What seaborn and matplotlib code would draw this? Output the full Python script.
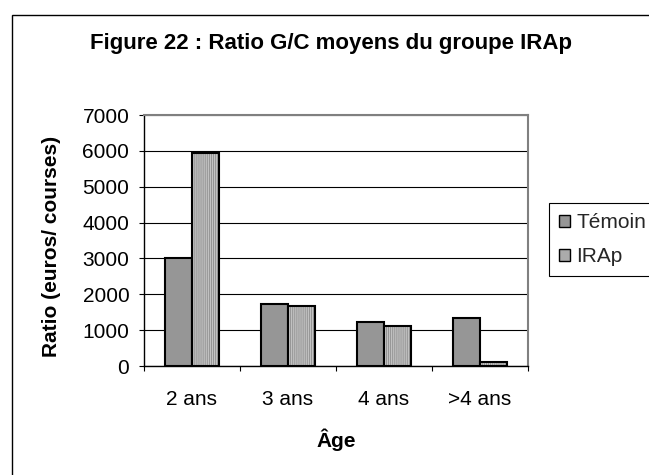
import matplotlib
matplotlib.use('Agg')
import matplotlib.pyplot as plt
import seaborn as sns
import pandas as pd
from matplotlib.patches import Patch, Rectangle

# ---- data ----
categories = ['2 ans', '3 ans', '4 ans', '>4 ans']
series = ['Témoin', 'IRAp']
temoin = [3000, 1720, 1220, 1330]
irap = [5950, 1670, 1110, 120]
yticks = [0, 1000, 2000, 3000, 4000, 5000, 6000, 7000]
title = 'Figure 22 : Ratio G/C moyens du groupe IRAp'
ylabel = 'Ratio (euros/ courses)'
xlabel = 'Âge'

df = pd.DataFrame({
    'Age': categories * 2,
    'Ratio': temoin + irap,
    'Groupe': [series[0]] * len(temoin) + [series[1]] * len(irap),
})

sns.set_theme(style='white')
plt.rcParams['font.family'] = ['Liberation Sans', 'DejaVu Sans']
plt.rcParams['hatch.linewidth'] = 0.6

W, H = 649, 475
def fx(x):
    return x / W
def fy(y):
    return 1 - y / H

fig = plt.figure(figsize=(W / 100, H / 100), dpi=100)
fig.patch.set_facecolor('white')
ax = fig.add_axes([fx(144), fy(366), (528 - 144) / W, (366 - 115) / H])

col_t = '#969696'
col_i = '#c4c4c4'
sns.barplot(data=df, x='Age', y='Ratio', hue='Groupe', hue_order=series,
            order=categories, palette={series[0]: col_t, series[1]: col_i},
            width=0.57, gap=0, saturation=1, edgecolor='black', linewidth=1.5,
            errorbar=None, legend=False, ax=ax, zorder=3)

# vertical stripe pattern for IRAp bars
for bar in ax.containers[1]:
    bar.set_hatch('|' * 8)
    bar.set_edgecolor('#8c8c8c')
    bar.set_linewidth(0)
    outline = Rectangle((bar.get_x(), bar.get_y()), bar.get_width(), bar.get_height(),
                        fill=False, edgecolor='black', linewidth=1.5, zorder=4)
    ax.add_patch(outline)

ax.set_xlim(-0.5, len(categories) - 0.5)
ax.set_ylim(yticks[0], yticks[-1])
ax.set_yticks(yticks)
ax.set_yticklabels([str(v) for v in yticks])
ax.set_xticks(range(len(categories)))
ax.set_xticklabels(categories)
ax.set_xticks([i - 0.5 for i in range(len(categories) + 1)], minor=True)
ax.set_xlabel('')
ax.set_ylabel('')

ax.set_axisbelow(True)
ax.yaxis.grid(True, color='black', linewidth=0.8)
ax.xaxis.grid(False)
for s in ['left', 'bottom']:
    ax.spines[s].set_color('black')
    ax.spines[s].set_linewidth(1.0)
for s in ['top', 'right']:
    ax.spines[s].set_color('#808080')
    ax.spines[s].set_linewidth(1.5)

ax.tick_params(axis='y', direction='out', length=3.6, width=0.8, color='black',
               labelsize=15, pad=7, left=True, labelcolor='black')
ax.tick_params(axis='x', which='major', length=0, labelsize=15, pad=17, labelcolor='black')
ax.tick_params(axis='x', which='minor', direction='out', length=3.6, width=0.8,
               color='black', bottom=True)

# texts
fig.text(fx(331), fy(43), title, ha='center', va='center', fontsize=16,
         fontweight='bold', color='black')
fig.text(fx(52), fy(246), ylabel, ha='center', va='center', rotation=90,
         fontsize=15, fontweight='bold', color='black')
fig.text(fx(336), fy(440), xlabel, ha='center', va='center', fontsize=15,
         fontweight='bold', color='black')

# legend
handles = [Patch(facecolor=col_t, edgecolor='black', linewidth=1.0),
           Patch(facecolor='#ababab', edgecolor='black', linewidth=1.0)]
leg = ax.legend(handles=handles, labels=series, loc='upper left',
                bbox_to_anchor=(fx(549), fy(203)), bbox_transform=fig.transFigure,
                fontsize=15, frameon=True, fancybox=False, edgecolor='black',
                framealpha=1, handlelength=0.5, handleheight=0.5,
                handletextpad=0.3, borderpad=0.5, labelspacing=0.7,
                borderaxespad=0)
leg.get_frame().set_linewidth(0.8)

# outer chart border (cropped on right and bottom)
fig.add_artist(Rectangle((fx(12), -0.5), 2, 0.5 + fy(14.5), transform=fig.transFigure,
                         fill=False, edgecolor='black', linewidth=1.0))

fig.savefig('out.png', dpi=100)
